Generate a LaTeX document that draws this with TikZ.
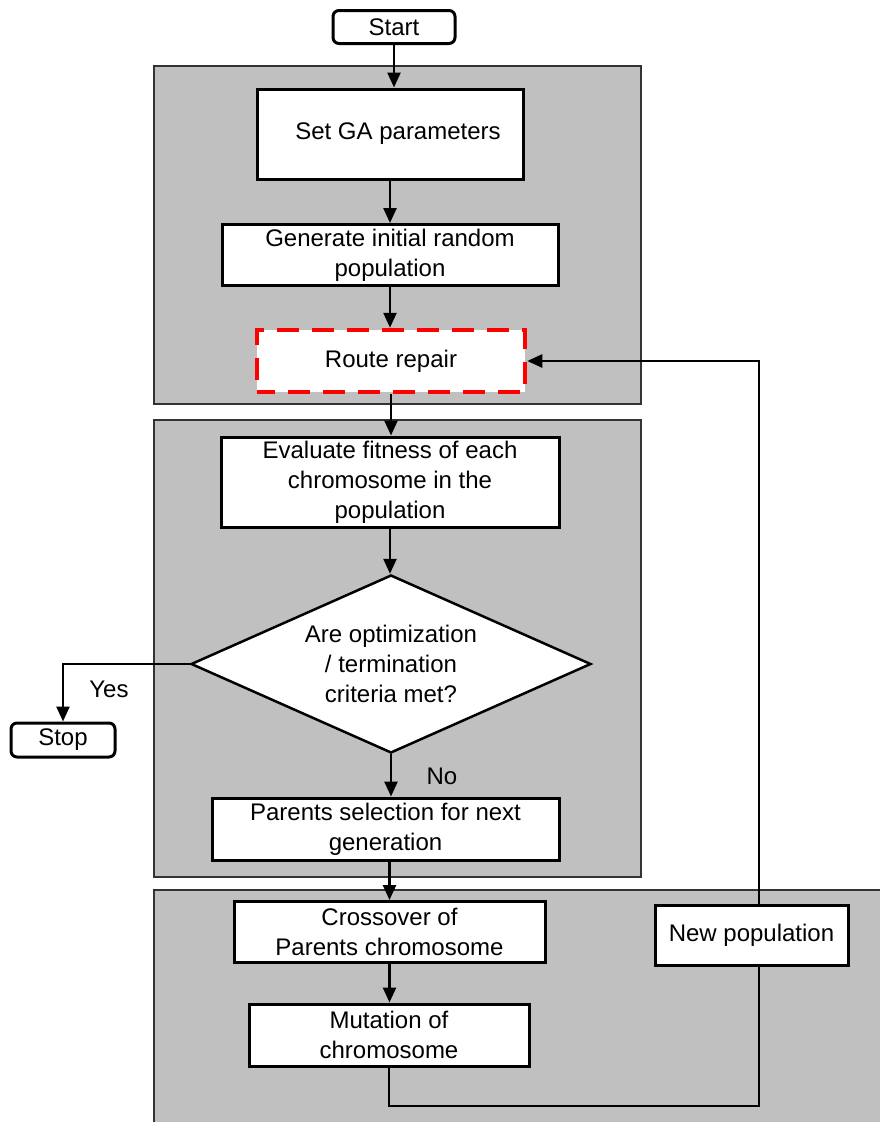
\documentclass[tikz,border=0pt]{standalone}
\usepackage{fontspec}
\setmainfont{Liberation Sans}
\usetikzlibrary{arrows.meta,shapes.geometric}
\definecolor{panelgray}{HTML}{C0C0C0}
\definecolor{paneledge}{HTML}{333333}
\begin{document}
\begin{tikzpicture}[x=1pt,y=-1pt,
  txt/.style={font=\fontsize{24}{30}\selectfont},
  panel/.style={fill=panelgray,draw=paneledge,line width=1.5pt},
  proc/.style={txt,draw=black,fill=white,line width=3pt,inner sep=0pt,align=center},
  term/.style={proc,rounded corners=6pt},
  repairbox/.style={proc,draw=red,line width=4.5pt,dash pattern=on 22pt off 13pt,dash phase=4pt},
  decision/.style={txt,diamond,draw=black,fill=white,line width=2.5pt,inner sep=0pt,align=center,aspect=2.25},
  flow/.style={line width=2.5pt,-{Triangle[width=13pt,length=15pt]}},
  link/.style={line width=2.5pt}
]
\useasboundingbox (0,0) rectangle (879,1122);
\fill[white] (0,0) rectangle (879,1122);

% grey stage panels
\draw[panel] (154,66) rectangle (641,404);
\draw[panel] (154,420) rectangle (641,877);
\draw[panel] (154,890) rectangle (895,1135);

% main column
\node[term, minimum width=122pt, minimum height=33pt] (start) at (394,27) {Start};
\node[proc, minimum width=266pt, minimum height=90pt] (setga) at (390,134) {\hspace*{16pt}Set GA parameters};
\node[proc, minimum width=336pt, minimum height=61pt] (gen) at (390,255) {Generate initial random\\population};
\node[repairbox, minimum width=268pt, minimum height=62pt] (repair) at (391,361) {Route repair};
\node[proc, minimum width=338pt, minimum height=90pt] (eval) at (390,482) {Evaluate fitness of each\\chromosome in the\\population};
\node[decision, minimum width=400pt, minimum height=178pt] (dec) at (391,664) {Are optimization\\/ termination\\criteria met?};
\node[term, minimum width=104pt, minimum height=34pt] (stop) at (63,740) {Stop};
\node[proc, minimum width=347pt, minimum height=62pt] (parents) at (385.5,829) {Parents selection for next\\generation};
\node[proc, minimum width=311pt, minimum height=61pt] (cross) at (389.5,932) {Crossover of\\Parents chromosome};
\node[proc, minimum width=280pt, minimum height=62pt] (mut) at (389,1035) {Mutation of\\chromosome};
\node[proc, minimum width=193pt, minimum height=60pt] (newpop) at (751.5,935) {New population};

% branch labels
\node[txt] (yes) at (109,689) {Yes};
\node[txt] (no) at (442,776) {No};

% connectors
\draw[flow] (start) -- (start |- setga.north);
\draw[flow] (setga) -- (gen);
\draw[flow] (gen) -- (gen |- repair.north);
\draw[flow] (repair) -- (repair |- eval.north);
\draw[flow] (eval) -- (eval |- dec.north);
\draw[flow] (dec.west) -| (stop.north);
\draw[flow] (dec.south) -- (dec.south |- parents.north);
\draw[flow] (parents.south -| cross.north) -- (cross.north);
\draw[flow] (cross) -- (cross |- mut.north);

% loop back to route repair
\coordinate (loopbr) at (759,1106);
\draw[link] (mut.south) |- (loopbr) -- (loopbr |- newpop.south);
\draw[flow] (loopbr |- newpop.north) |- (repair.east);
\end{tikzpicture}
\end{document}
